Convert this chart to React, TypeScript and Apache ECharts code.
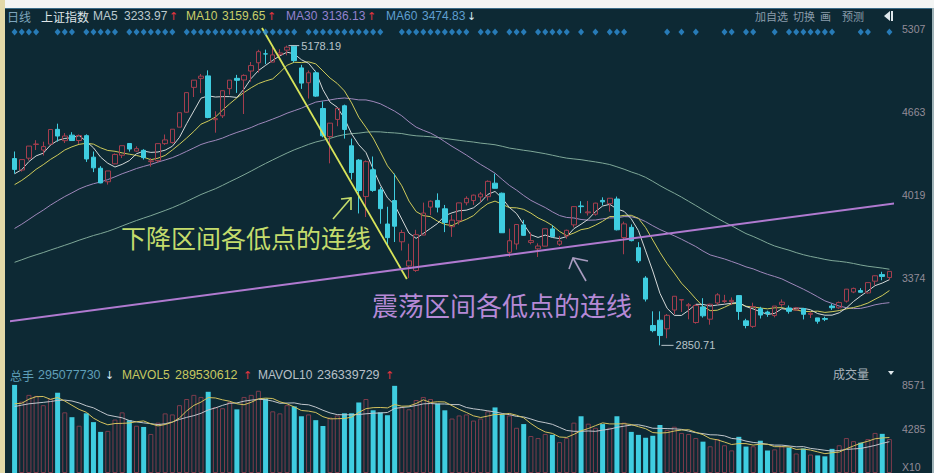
import React, { useEffect, useRef } from "react";
import * as echarts from "echarts";

// ---------- DATA ----------
const dates = [
  "2015-04-20","2015-04-21","2015-04-22","2015-04-23","2015-04-24","2015-04-27","2015-04-28","2015-04-29","2015-04-30",
  "2015-05-04","2015-05-05","2015-05-06","2015-05-07","2015-05-08","2015-05-11","2015-05-12","2015-05-13","2015-05-14","2015-05-15",
  "2015-05-18","2015-05-19","2015-05-20","2015-05-21","2015-05-22","2015-05-25","2015-05-26","2015-05-27","2015-05-28","2015-05-29",
  "2015-06-01","2015-06-02","2015-06-03","2015-06-04","2015-06-05","2015-06-08","2015-06-09","2015-06-10","2015-06-11","2015-06-12",
  "2015-06-15","2015-06-16","2015-06-17","2015-06-18","2015-06-19","2015-06-23","2015-06-24","2015-06-25","2015-06-26","2015-06-29","2015-06-30",
  "2015-07-01","2015-07-02","2015-07-03","2015-07-06","2015-07-07","2015-07-08","2015-07-09","2015-07-10","2015-07-13","2015-07-14","2015-07-15",
  "2015-07-16","2015-07-17","2015-07-20","2015-07-21","2015-07-22","2015-07-23","2015-07-24","2015-07-27","2015-07-28","2015-07-29","2015-07-30","2015-07-31",
  "2015-08-03","2015-08-04","2015-08-05","2015-08-06","2015-08-07","2015-08-10","2015-08-11","2015-08-12","2015-08-13","2015-08-14",
  "2015-08-17","2015-08-18","2015-08-19","2015-08-20","2015-08-21","2015-08-24","2015-08-25","2015-08-26","2015-08-27","2015-08-28","2015-08-31",
  "2015-09-01","2015-09-02","2015-09-07","2015-09-08","2015-09-09","2015-09-10","2015-09-11","2015-09-14","2015-09-15","2015-09-16","2015-09-17","2015-09-18",
  "2015-09-21","2015-09-22","2015-09-23","2015-09-24","2015-09-25","2015-09-28","2015-09-29","2015-09-30",
  "2015-10-08","2015-10-09","2015-10-12","2015-10-13","2015-10-14","2015-10-15","2015-10-16","2015-10-19","2015-10-20",
];

const opens = [
  4301,4212,4304,4411,4367,4413,4528,4440,4483,
  4441,4479,4312,4226,4121,4260,4327,4418,4359,4365,
  4277,4285,4417,4425,4545,4661,4854,4924,4943,4603,
  4633,4844,4924,4911,4981,5045,5114,5050,5108,5143,
  5174,5005,4890,4967,4690,4472,4605,4711,4400,4289,4006,
  4214,4058,3793,3975,3655,3467,3432,3707,3924,3976,3911,
  3772,3818,3958,3975,4003,4005,4110,4032,3573,3638,3786,3650,
  3600,3621,3755,3636,3700,3786,3933,3880,3869,3976,
  3951,3987,3688,3767,3609,3373,3005,3046,2979,3125,3203,
  3158,3028,3149,3054,3180,3191,3190,3237,3041,2998,3135,3109,
  3083,3167,3141,3125,3137,3092,3064,3059,
  3156,3142,3194,3265,3276,3258,3349,3400,3377,
];
const highs = [
  4356,4294,4398,4444,4432,4529,4572,4499,4506,
  4488,4489,4356,4242,4205,4341,4402,4420,4396,4374,
  4305,4417,4488,4529,4657,4814,4911,4958,4986,4668,
  4829,4911,4951,4955,5051,5146,5147,5164,5150,5178.19,
  5177,5029,4985,4983,4744,4577,4691,4720,4456,4297,4287,
  4317,4080,3927,4184,3748,3640,3748,3959,3976,4031,3941,
  3864,3958,4008,4021,4041,4132,4184,4037,3757,3789,3825,3727,
  3643,3757,3783,3700,3749,3932,3970,3972,3958,4000,
  3994,4006,3811,3790,3652,3388,3115,3115,3094,3233,3207,
  3180,3172,3217,3174,3256,3243,3223,3239,3057,3182,3150,3120,
  3156,3207,3160,3149,3140,3108,3064,3073,
  3172,3191,3289,3299,3295,3339,3394,3422,3425,
];
const lows = [
  4184,4200,4286,4367,4325,4410,4432,4422,4441,
  4415,4275,4196,4109,4099,4257,4305,4355,4353,4293,
  4238,4271,4407,4418,4544,4658,4779,4809,4614,4502,
  4616,4797,4811,4647,4898,4968,5034,5050,5070,5103,
  5048,4842,4767,4780,4466,4264,4552,4456,4139,3875,3847,
  4043,3795,3629,3653,3587,3373,3421,3707,3862,3883,3730,
  3693,3788,3938,3941,3963,3975,4069,3723,3537,3594,3702,3635,
  3537,3619,3690,3623,3679,3766,3877,3859,3858,3938,
  3889,3743,3558,3658,3490,3191,2952,2850.71,2906,3092,3110,
  3053,3019,3066,3011,3165,3178,3163,3049,2983,2986,3059,3072,
  3068,3150,3097,3119,3052,3063,3019,3039,
  3126,3135,3183,3256,3260,3252,3315,3356,3357,
];
const closes = [
  4217,4293,4398,4414,4394,4527,4476,4476,4441,
  4480,4298,4229,4112,4205,4333,4401,4375,4378,4308,
  4283,4417,4446,4529,4657,4813,4910,4941,4620,4611,
  4828,4910,4909,4947,5023,5131,5113,5106,5121,5166,
  5062,4887,4967,4786,4478,4576,4691,4527,4193,4053,4277,
  4054,3912,3687,3776,3727,3507,3710,3878,3970,3924,3805,
  3823,3957,3992,4017,4026,4124,4070,3725,3663,3789,3705,3664,
  3622,3756,3695,3661,3744,3928,3928,3887,3955,3965,
  3993,3748,3794,3664,3507,3210,2965,2927,3084,3232,3206,
  3166,3160,3080,3170,3243,3197,3200,3114,3005,3152,3086,3097,
  3156,3186,3115,3142,3092,3100,3038,3053,
  3143,3183,3287,3293,3263,3338,3391,3386,3425,
];
// volume, unit: 10万手
const volumes = [
  8570,6950,7600,7500,6600,7200,7810,5900,5430,
  4600,5810,4950,4000,4100,5200,5900,5140,4600,4480,
  3800,4900,5800,5700,6600,7200,7600,7400,7900,6400,
  6300,6900,6190,7400,7600,8000,7240,6000,5800,6600,
  6480,5520,5700,5140,4570,5400,5600,5810,5810,6860,7200,
  6100,5900,5620,8480,6400,6200,7100,7400,7200,6760,6100,
  5300,5600,5700,5100,5300,6000,6380,5710,5600,4400,4760,3600,
  3400,3800,3710,3000,3400,4900,5520,4800,4400,4760,
  4400,5520,4900,4000,3710,3430,3620,4670,4200,4500,3900,
  3800,3400,3050,2600,3300,2700,2200,3520,2570,2600,3140,2190,
  2300,2600,2480,1900,2380,1800,1710,1620,
  2350,2700,3400,3100,2951,3300,3900,3810,3300,
];
// closes of the 59 sessions before the first candle (for MA30 / MA60)
const priorCloses = [
  3116,3173,3323,3343,3351,3383,3352,3305,3262,3210,
  3128,3204,3174,3136,3076,3095,3141,3158,3173,3203,3228,3246,3228,3298,3310,
  3336,3263,3280,3248,3241,3302,3286,3290,3349,3372,3449,3502,3577,3582,3617,
  3688,3691,3661,3682,3691,3786,3748,
  3810,3825,3863,3961,3994,3957,4034,4121,4135,4084,4194,4287,
];
const priorVolumes = [5600,6300,6800,5900,6400,6700,5600,6300,6500];

const priceTicks = [3374, 4019, 4663, 5307];
const volTicks = [4285, 8571];

// trend lines: [candle index, price]
const downTrend = [[34.5, 5315], [54.7, 3366]];
const rangeTrend = [[-1.4, 3032], [123.1, 3956]];

// info-mine markers (candle indices)
const markerIdx = [
  0,1,2,3, 6,7,8, 10,11,12,13,14, 16,17,18,19,20,21,22,
  24,25,26,27,28,29,30,31,32,33,34,35,36,37,38,39,
  41,42,43,44,45,46,47,48, 49,50,51, 54,55,56,57,58,59,60,61,62,63,
  65,66,67, 69,70,71, 73,74,75,76,77, 79, 81, 83, 84,85,
  91, 93, 95, 99,100, 102,103, 106, 108,109,110,111,112,113,114, 118,119, 122,
];

const maHeader = [
  { name: "MA5", value: "3233.97", up: true },
  { name: "MA10", value: "3159.65", up: true },
  { name: "MA30", value: "3136.13", up: true },
  { name: "MA60", value: "3474.83", up: false },
];
const volHeader = [
  { name: "总手", value: "295077730", up: false },
  { name: "MAVOL5", value: "289530612", up: true },
  { name: "MAVOL10", value: "236339729", up: true },
];

// ---------- STYLE ----------
const BG = "#0d2934";
const UP = "#a43e4e";
const DOWN = "#3fcde0";
const FONT = "'Liberation Sans', 'Noto Sans CJK SC', sans-serif";
const CJK = "'Noto Sans CJK SC', sans-serif";
const ARROW_FONT = "'DejaVu Sans', sans-serif";
const MA_COLORS = ["#d4d8d8", "#cfcb5a", "#9f88bb", "#7fa898"];
const MA_HEADER_COLORS = ["#bccacf", "#c9cf6a", "#9482cf", "#5f9fd0"];
const VOL_HEADER_COLORS = ["#5f9fb8", "#c8c860", "#b8c0c8"];

function movingAvg(series: number[], prior: number[], n: number) {
  const all = prior.concat(series);
  const off = prior.length;
  return series.map((_, i) => {
    const end = off + i;
    if (end - n + 1 < 0) return null;
    let s = 0;
    for (let k = end - n + 1; k <= end; k++) s += all[k];
    return +(s / n).toFixed(2);
  });
}

function txt(text: string, x: number, y: number, fill: string, size = 12, family = FONT, extra: any = {}) {
  return {
    type: "text",
    x,
    y,
    silent: true,
    z: 100,
    style: { text, fill, font: `${size}px ${family}`, verticalAlign: "middle", align: "left", ...extra },
  };
}

function buildOption() {
  const n = closes.length;
  const candleData = closes.map((c, i) => [opens[i], c, lows[i], highs[i]]);
  const ma5 = movingAvg(closes, priorCloses, 5);
  const ma10 = movingAvg(closes, priorCloses, 10);
  const ma30 = movingAvg(closes, priorCloses, 30);
  const ma60 = movingAvg(closes, priorCloses, 60);
  const mav5 = movingAvg(volumes, priorVolumes, 5);
  const mav10 = movingAvg(volumes, priorVolumes, 10);

  const peakHigh = Math.max(...highs);
  const peakIdx = highs.indexOf(peakHigh);
  const troughLow = Math.min(...lows);
  const troughIdx = lows.indexOf(troughLow);

  const volData = volumes.map((v, i) => {
    const up = closes[i] >= opens[i];
    return {
      value: v,
      itemStyle: up
        ? { color: "rgba(0,0,0,0)", borderColor: "#7e3c4c", borderWidth: 1 }
        : { color: DOWN, borderWidth: 0 },
    };
  });

  const maLine = (name: string, data: any[], color: string, xi = 0, yi = 0) => ({
    name,
    type: "line",
    xAxisIndex: xi,
    yAxisIndex: yi,
    data,
    showSymbol: false,
    symbol: "none",
    smooth: false,
    lineStyle: { color, width: 1 },
    z: 3,
  });

  const graphic: any[] = [];
  // frame strips
  graphic.push({ type: "rect", shape: { x: 0, y: 0, width: 934, height: 8 }, style: { fill: "#f3f5f4" }, z: 200 });
  graphic.push({ type: "rect", shape: { x: 0, y: 0, width: 5, height: 473 }, style: { fill: "#e2d9a8" }, z: 200 });
  graphic.push({ type: "rect", shape: { x: 932, y: 8, width: 2, height: 465 }, style: { fill: "#9fb3b8" }, z: 200 });
  graphic.push({ type: "line", shape: { x1: 5, y1: 8.5, x2: 934, y2: 8.5 }, style: { stroke: "#3b6d88", lineWidth: 1 }, z: 150 });

  // header row
  graphic.push(txt("日线", 7, 16, "#7ea6bd", 12, CJK));
  graphic.push(txt("上证指数", 41, 16, "#dfe5e8", 12, CJK));
  const maX = [93, 186, 286, 386];
  const maValX = [124, 222, 322, 422];
  const arrowX = [169, 267, 367, 467];
  maHeader.forEach((m, k) => {
    graphic.push(txt(m.name, maX[k], 16, MA_HEADER_COLORS[k], 12));
    graphic.push(txt(m.value, maValX[k], 16, MA_HEADER_COLORS[k], 12));
    graphic.push(txt(m.up ? "↑" : "↓", arrowX[k], 16, m.up ? "#e3343f" : "#d6e6ee", 11, ARROW_FONT));
  });
  graphic.push(txt("加自选", 755, 16, "#8a9cab", 11, CJK));
  graphic.push(txt("切换", 793, 16, "#8a9cab", 11, CJK));
  graphic.push(txt("画", 820, 16, "#8a9cab", 11, CJK));
  graphic.push(txt("预测", 842, 16, "#8a9cab", 11, CJK));
  graphic.push({ type: "polygon", shape: { points: [[884, 16], [890, 11], [890, 21]] }, style: { fill: "#dfe8ec" }, z: 100 });
  graphic.push({ type: "rect", shape: { x: 891, y: 11, width: 2, height: 10 }, style: { fill: "#dfe8ec" }, z: 100 });

  // volume header
  const vNameX = [10, 122, 258];
  const vValX = [38, 175, 317];
  const vArrowX = [105, 243, 385];
  volHeader.forEach((m, k) => {
    graphic.push(txt(m.name, vNameX[k], 375, VOL_HEADER_COLORS[k], 12, k === 0 ? CJK : FONT));
    graphic.push(txt(m.value, vValX[k], 375, VOL_HEADER_COLORS[k], 12.5));
    graphic.push(txt(m.up ? "↑" : "↓", vArrowX[k], 375, m.up ? "#e3343f" : "#d6e6ee", 11, ARROW_FONT));
  });
  graphic.push(txt("成交量", 833, 373, "#a8b2ba", 12, CJK));
  graphic.push({ type: "polygon", shape: { points: [[888, 371], [894, 371], [891, 375]] }, style: { fill: "#dfe8ec" }, z: 100 });
  graphic.push(txt("X10", 902, 467, "#938c98", 10.5));

  // annotations
  graphic.push(txt("下降区间各低点的连线", 121, 237, "#c4dc6c", 25, CJK));
  graphic.push(txt("震荡区间各低点的连线", 372, 304, "#b689d6", 26, CJK));
  graphic.push({
    type: "polyline",
    shape: { points: [[333, 219], [351, 198]] },
    style: { stroke: "#c4dc6c", lineWidth: 1.6, fill: null },
    z: 100,
  });
  graphic.push({
    type: "polyline",
    shape: { points: [[341, 199], [351, 198], [351, 210]] },
    style: { stroke: "#c4dc6c", lineWidth: 1.6, fill: null },
    z: 100,
  });
  graphic.push({
    type: "polyline",
    shape: { points: [[586, 281], [573, 258]] },
    style: { stroke: "#a99cc0", lineWidth: 1.6, fill: null },
    z: 100,
  });
  graphic.push({
    type: "polyline",
    shape: { points: [[588, 261], [573, 258], [569, 269]] },
    style: { stroke: "#a99cc0", lineWidth: 1.6, fill: null },
    z: 100,
  });

  const labelStyle = { color: "#b9c4c9", fontSize: 11, fontFamily: FONT };
  const axisLabelBase = {
    color: "#938c98",
    fontSize: 10.5,
    fontFamily: FONT,
    margin: 9,
    formatter: (v: number) => String(Math.round(v)),
  };

  return {
    animation: false,
    backgroundColor: BG,
    grid: [
      { left: 11, width: 882, top: 20, height: 340 },
      { left: 11, width: 882, top: 380, height: 95 },
    ],
    xAxis: [
      { type: "category", gridIndex: 0, data: dates, show: false, boundaryGap: true },
      { type: "category", gridIndex: 1, data: dates, show: false, boundaryGap: true },
      { type: "value", gridIndex: 0, min: -0.5, max: n - 0.5, show: false },
    ],
    yAxis: [
      {
        type: "value",
        gridIndex: 0,
        min: 2737,
        max: 5377,
        position: "right",
        axisLine: { show: false },
        axisTick: { show: false },
        splitLine: { show: false },
        axisLabel: { ...axisLabelBase, customValues: priceTicks },
      },
      {
        type: "value",
        gridIndex: 1,
        min: 0,
        max: 9048,
        position: "right",
        axisLine: { show: false },
        axisTick: { show: false },
        splitLine: { show: false },
        axisLabel: { ...axisLabelBase, customValues: volTicks },
      },
    ],
    series: [
      maLine("MA60", ma60, MA_COLORS[3]),
      maLine("MA30", ma30, MA_COLORS[2]),
      maLine("MA10", ma10, MA_COLORS[1]),
      maLine("MA5", ma5, MA_COLORS[0]),
      {
        name: "K",
        type: "candlestick",
        xAxisIndex: 0,
        yAxisIndex: 0,
        data: candleData,
        barWidth: 5,
        z: 4,
        itemStyle: {
          color: "rgba(0,0,0,0)",
          color0: DOWN,
          borderColor: UP,
          borderColor0: DOWN,
          borderWidth: 1,
        },
      },
      {
        name: "downTrend",
        type: "line",
        xAxisIndex: 2,
        yAxisIndex: 0,
        data: downTrend,
        showSymbol: false,
        symbol: "none",
        clip: false,
        lineStyle: { color: "#d7e45a", width: 1.8 },
        z: 6,
      },
      {
        name: "rangeTrend",
        type: "line",
        xAxisIndex: 2,
        yAxisIndex: 0,
        data: rangeTrend,
        showSymbol: false,
        symbol: "none",
        clip: false,
        lineStyle: { color: "#b07ad0", width: 2 },
        z: 6,
      },
      {
        name: "peak",
        type: "line",
        xAxisIndex: 2,
        yAxisIndex: 0,
        data: [[peakIdx + 0.2, peakHigh], [peakIdx + 1.7, peakHigh]],
        showSymbol: false,
        symbol: "none",
        clip: false,
        lineStyle: { color: "#b9c4c9", width: 1 },
        endLabel: { show: true, formatter: peakHigh.toFixed(2), distance: 2, ...labelStyle },
        z: 7,
      },
      {
        name: "trough",
        type: "line",
        xAxisIndex: 2,
        yAxisIndex: 0,
        data: [[troughIdx + 0.2, troughLow], [troughIdx + 1.9, troughLow]],
        showSymbol: false,
        symbol: "none",
        clip: false,
        lineStyle: { color: "#b9c4c9", width: 1 },
        endLabel: { show: true, formatter: troughLow.toFixed(2), distance: 2, ...labelStyle },
        z: 7,
      },
      {
        name: "markers",
        type: "scatter",
        xAxisIndex: 2,
        yAxisIndex: 0,
        data: markerIdx.map((i) => [i, 5284]),
        symbol: "diamond",
        symbolSize: [6, 7],
        itemStyle: { color: "#2e90d8" },
        clip: false,
        z: 8,
      },
      {
        name: "VOL",
        type: "bar",
        xAxisIndex: 1,
        yAxisIndex: 1,
        data: volData,
        barWidth: 5,
        z: 3,
      },
      maLine("MAVOL10", mav10, "#c0c6cc", 1, 1),
      maLine("MAVOL5", mav5, "#d4c25e", 1, 1),
    ],
    graphic,
  };
}

export default function App() {
  const ref = useRef<HTMLDivElement>(null);
  useEffect(() => {
    document.body.style.margin = "0";
    if (!ref.current) return;
    const chart = echarts.init(ref.current, null, { renderer: "svg" });
    chart.setOption(buildOption() as any);
    return () => chart.dispose();
  }, []);
  return <div ref={ref} style={{ width: 934, height: 473 }} />;
}
